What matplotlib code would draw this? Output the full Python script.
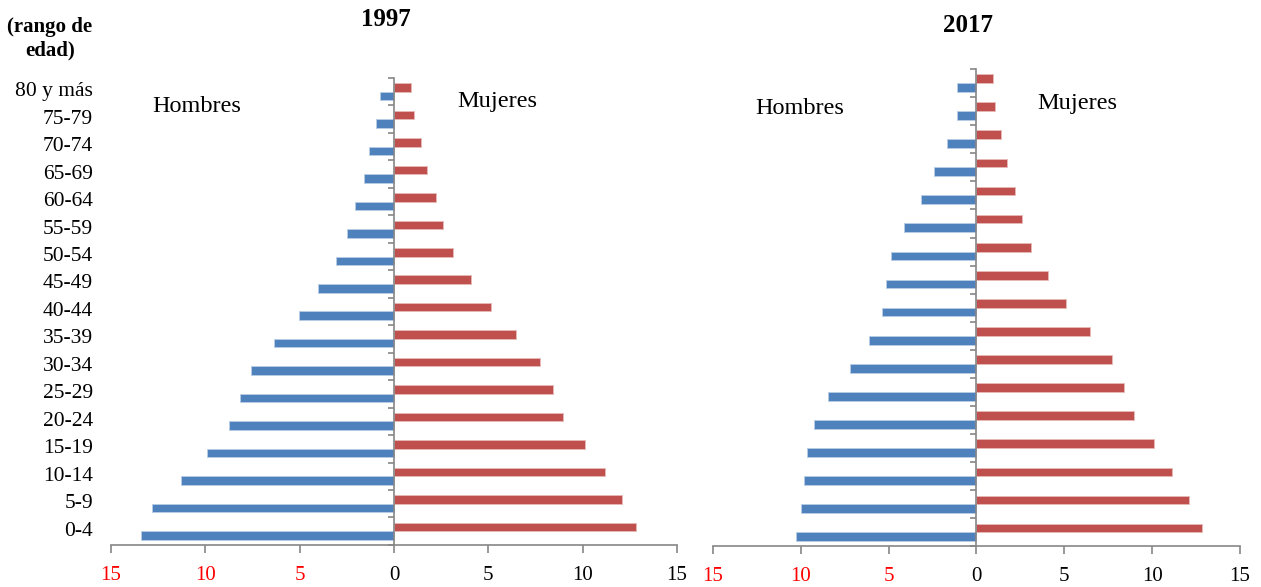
import numpy as np
import matplotlib.pyplot as plt
from matplotlib.transforms import blended_transform_factory

plt.rcParams['font.family'] = ['Liberation Serif', 'DejaVu Serif']

grupos = ["0-4", "5-9", "10-14", "15-19", "20-24", "25-29", "30-34", "35-39",
          "40-44", "45-49", "50-54", "55-59", "60-64", "65-69", "70-74",
          "75-79", "80 y más"]

hombres_1997 = [13.41, 12.83, 11.27, 9.93, 8.74, 8.16, 7.58, 6.34, 5.02,
                4.04, 3.09, 2.51, 2.07, 1.61, 1.31, 0.95, 0.74]
mujeres_1997 = [12.83, 12.10, 11.16, 10.14, 8.95, 8.42, 7.73, 6.46, 5.15,
                4.10, 3.13, 2.62, 2.21, 1.73, 1.41, 1.08, 0.92]

hombres_2017 = [10.28, 10.01, 9.83, 9.63, 9.24, 8.46, 7.19, 6.14, 5.39,
                5.16, 4.89, 4.14, 3.17, 2.40, 1.68, 1.13, 1.13]
mujeres_2017 = [12.82, 12.08, 11.14, 10.12, 8.95, 8.42, 7.73, 6.45, 5.12,
                4.10, 3.13, 2.62, 2.21, 1.73, 1.41, 1.06, 0.94]

ticks_x = [-15, -10, -5, 0, 5, 10, 15]
etiquetas_x = ["15", "10", "5", "0", "5", "10", "15"]

azul = "#4F81BD"
rojo = "#C0504D"
gris = "#868686"


def piramide(ax, hombres, mujeres, con_etiquetas):
    y = np.arange(len(grupos))
    h = 0.31
    ax.barh(y + h / 2, mujeres, height=h, color=rojo, edgecolor="#E6B9B8", linewidth=0.6)
    ax.barh(y - h / 2, -np.array(hombres), height=h, color=azul, edgecolor="#B9CDE5", linewidth=0.6)

    ax.set_xlim(-15, 15)
    ax.set_ylim(-0.5, len(grupos) - 0.5)

    # vertical axis sits on zero, ticks at the category boundaries
    for s in ["top", "right"]:
        ax.spines[s].set_visible(False)
    ax.spines["left"].set_position(("data", 0))
    ax.spines["left"].set_color(gris)
    ax.spines["bottom"].set_color(gris)
    ax.spines["left"].set_linewidth(1.2)
    ax.spines["bottom"].set_linewidth(1.2)

    ax.set_yticks(np.arange(len(grupos) + 1) - 0.5)
    ax.set_yticklabels([])
    ax.tick_params(axis="y", direction="out", length=4.5, color=gris, width=1.2)

    ax.set_xticks(ticks_x)
    ax.set_xticklabels(etiquetas_x, fontsize=15)
    ax.tick_params(axis="x", direction="out", length=6, color=gris, width=1.2, pad=9)
    for lab, v in zip(ax.get_xticklabels(), ticks_x):
        lab.set_color("red" if v < 0 else "black")

    if con_etiquetas:
        tr = blended_transform_factory(ax.transAxes, ax.transData)
        for i, g in enumerate(grupos):
            ax.text(-0.032, i, g, transform=tr, ha="right", va="center", fontsize=15.5)


fig = plt.figure(figsize=(12.61, 5.87), dpi=100)
ax1 = fig.add_axes([0.0880, 0.0716, 0.4489, 0.7956])
ax2 = fig.add_axes([0.5654, 0.0690, 0.4179, 0.8135])

piramide(ax1, hombres_1997, mujeres_1997, True)
piramide(ax2, hombres_2017, mujeres_2017, False)

W, H = 1261, 587
fig.text(386 / W, 1 - 20 / H, "1997", ha="center", va="center", fontsize=18, fontweight="bold")
fig.text(968 / W, 1 - 26 / H, "2017", ha="center", va="center", fontsize=18, fontweight="bold")
fig.text(50 / W, 1 - 39 / H, "(rango de\nedad)", ha="center", va="center", fontsize=15,
         fontweight="bold", linespacing=1.25)

fig.text(152 / W, 1 - 107 / H, "Hombres", ha="left", va="center", fontsize=17.5)
fig.text(457 / W, 1 - 101 / H, "Mujeres", ha="left", va="center", fontsize=17.5)
fig.text(755 / W, 1 - 108 / H, "Hombres", ha="left", va="center", fontsize=17.5)
fig.text(1037 / W, 1 - 104 / H, "Mujeres", ha="left", va="center", fontsize=17.5)

fig.savefig("out.png", dpi=100)
